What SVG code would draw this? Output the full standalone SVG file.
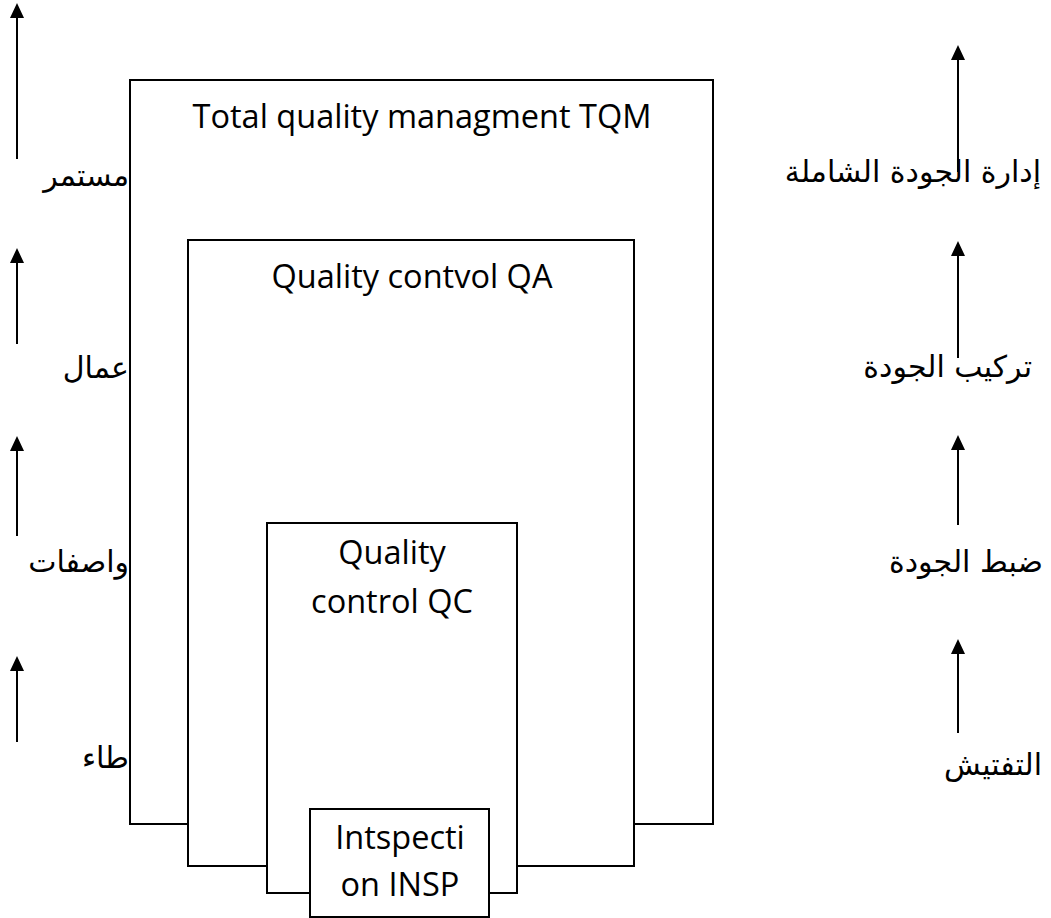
<svg xmlns="http://www.w3.org/2000/svg" width="1051" height="918" viewBox="0 0 1051 918">
<defs>
<marker id="ah" viewBox="0 0 15 14" refX="7" refY="7" markerWidth="15" markerHeight="14" markerUnits="userSpaceOnUse" orient="auto">
<path d="M0,0 L15,7 L0,14 z" fill="#000"/>
</marker>
<style>
.box{fill:#fff;stroke:#000;stroke-width:2}
.arr{stroke:#000;stroke-width:2;fill:none;marker-end:url(#ah)}
.en{font-family:"Open Sans","Liberation Sans",sans-serif;font-size:32.5px;fill:#000;text-anchor:middle}
.ar{font-family:"DejaVu Sans","Liberation Sans",sans-serif;font-size:30px;fill:#000;text-anchor:end}
</style>
</defs>
<rect width="1051" height="918" fill="#fff"/>
<g id="left-labels">
<text class="ar" x="129" y="186">مستمر</text>
<text class="ar" x="129" y="378">عمال</text>
<text class="ar" x="129" y="572">واصفات</text>
<text class="ar" x="129" y="768">طاء</text>
</g>
<g id="right-labels">
<text class="ar" x="1041" y="182">إدارة الجودة الشاملة</text>
<text class="ar" x="1032" y="377">تركيب الجودة</text>
<text class="ar" x="1043" y="572">ضبط الجودة</text>
<text class="ar" x="1042" y="775">التفتيش</text>
</g>
<g id="tqm">
<rect class="box" x="130" y="80" width="583" height="744"/>
<text class="en" x="422" y="128">Total quality managment TQM</text>
</g>
<g id="qa">
<rect class="box" x="188" y="240" width="446" height="626"/>
<text class="en" x="412" y="288">Quality contvol QA</text>
</g>
<g id="qc">
<rect class="box" x="267" y="523" width="250" height="370"/>
<text class="en" x="392" y="564">Quality</text>
<text class="en" x="392" y="613">control QC</text>
</g>
<g id="insp">
<rect class="box" x="310" y="809" width="179" height="108"/>
<text class="en" x="400" y="849">Intspecti</text>
<text class="en" x="400" y="896">on INSP</text>
</g>
<g id="connectors">
<line class="arr" x1="17" y1="159" x2="17" y2="11"/>
<line class="arr" x1="17" y1="344" x2="17" y2="256"/>
<line class="arr" x1="17" y1="536" x2="17" y2="444"/>
<line class="arr" x1="17" y1="742" x2="17" y2="664"/>
<line class="arr" x1="958" y1="172" x2="958" y2="53"/>
<line class="arr" x1="958" y1="358" x2="958" y2="249"/>
<line class="arr" x1="958" y1="525" x2="958" y2="443"/>
<line class="arr" x1="958" y1="733" x2="958" y2="647"/>
</g>
</svg>
